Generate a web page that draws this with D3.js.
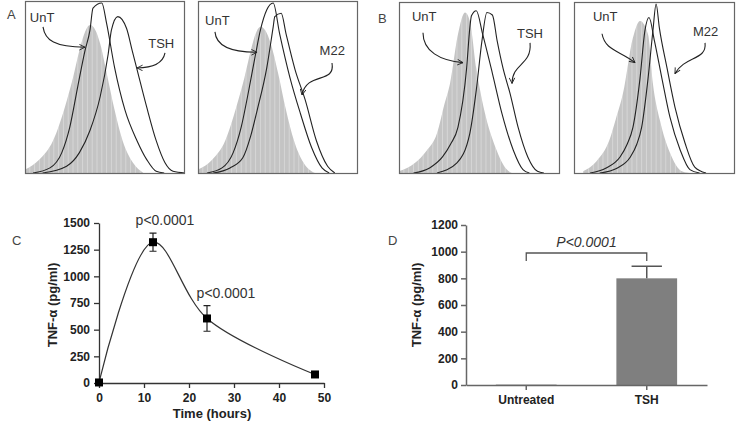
<!DOCTYPE html>
<html><head><meta charset="utf-8">
<script src="https://cdn.jsdelivr.net/npm/d3@7"></script>
<style>
body{margin:0;background:#fff}
svg{display:block;font-family:"Liberation Sans",Arial,sans-serif}
</style></head><body>
<svg id="chart" width="737" height="423"></svg>
<script>
// ---- Flow cytometry histograms: [channel (0-100), % of max count]
const grayA1 = [[0,2],[9,8],[17.5,19],[25,39],[30,56],[34,72],[37.5,83],[40.6,87],[44,84],[47,76],[51,59],[56,37],[61,19],[67.5,6],[74,0]];
const unTA1  = [[5,0],[15.6,3],[23,12],[28,27],[33,51],[37.5,72],[40.6,84],[42.5,97],[48,100],[51,88],[56,62],[62.5,37],[70,19],[76,8],[82,1],[87,0]];
const tshA1  = [[11,0],[26,4],[34,12],[40.6,25],[47,45],[52,70],[54,84],[58,92],[63.5,85],[67,72],[70,61],[76,39],[82,19],[87.5,6],[92.5,1],[100,0]];

const grayA2 = [[0,2],[9,8],[17,19],[24,39],[29,56],[33,72],[36.5,83],[39,86],[42,84],[45.5,76],[50,59],[55,37],[60,19],[66,6],[73,0]];
const unTA2  = [[5.6,0],[15,3],[22,12],[27,27],[32,50],[36,70],[39,84],[43,96],[47,100],[51,82],[57.5,56],[64,35],[71,15],[77.5,3],[82,0]];
const m22A2  = [[9.5,0],[20,3],[28,9],[33,22],[37,37],[43,62],[47,86],[48,92],[52,94],[55,82],[60.6,61],[67,43],[74,19],[81,4],[85.5,0]];

const grayB1 = [[0,1],[10,6],[17,13],[23.6,23.5],[28,40],[31.7,53],[36.6,82],[41,95],[44,90],[48,62],[53,37],[60,15],[67,2],[70,0]];
const unTB1  = [[9,0],[19,3],[27,9.5],[32,17],[36.6,27],[42,62],[44,86],[45,93],[48,96],[52,82],[58,59],[64,35],[71,13.5],[77,2],[81,0]];
const tshB1  = [[23.6,0],[36,6],[44,23.5],[48,49],[51.5,78],[54.6,95],[58,93.5],[61,78],[64.6,62],[69,47],[74,27],[80,9.5],[86,1],[90,0]];

const grayB2 = [[5.6,1],[14,7],[22,19.5],[26,32],[30.4,47],[36.6,80],[41,90],[46,82],[49,53],[53.4,31],[59.6,12],[67,1],[72,0]];
const unTB2  = [[10,0],[20,3],[28.6,9.5],[33,17],[36.6,27],[41,56],[44,84],[46.6,92],[50,78],[54.6,56],[59.6,33],[66,13.5],[72,2],[78,0]];
const m22B2  = [[16,0],[27,3],[35,9.5],[39,17],[42,27],[46,56],[49,84],[51,100],[53,86],[57.8,62],[62.7,39],[69,17.6],[75,3.5],[82,0]];

// ---- Panel C: time course
const timeHours  = [0, 12, 24, 48];
const tnfTime    = [5, 1320, 605, 80];
const tnfTimeErr = [0, 85, 120, 0];
const cYTicks = [0, 250, 500, 750, 1000, 1250, 1500];
const cXTicks = [0, 10, 20, 30, 40, 50];
const cPLabels = ["p<0.0001", "p<0.0001"];

// ---- Panel D: bar chart
const groups      = ["Untreated", "TSH"];
const tnfGroup    = [3, 800];
const tnfGroupErr = [0, 90];
const dYTicks = [0, 200, 400, 600, 800, 1000, 1200];
const dPLabel = "P<0.0001";

const svg = d3.select("#chart");
const defs = svg.append("defs");
defs.append("marker").attr("id","arr").attr("viewBox","0 0 10 10")
  .attr("refX",9).attr("refY",5).attr("markerWidth",7).attr("markerHeight",7)
  .attr("markerUnits","userSpaceOnUse").attr("orient","auto")
  .append("path").attr("d","M1,1 L9,5 L1,9").attr("fill","none")
  .attr("stroke","#222").attr("stroke-width",1.3);

const panels = [
  {id:"A1", x0:25, x1:185, y0:1, y1:174, gray:grayA1, a:unTA1, b:tshA1,
   labels:[{t:"UnT", tx:3, ty:89, path:[[11.25,86],[12.5,78],[18.75,74],[37.5,74]]},
           {t:"TSH", tx:77, ty:73.5, path:[[87.5,70.6],[86,63.5],[78,61.8],[70,61.8]]}]},
  {id:"A2", x0:198, x1:358, y0:1, y1:174, gray:grayA2, a:unTA2, b:m22A2,
   labels:[{t:"UnT", tx:4.4, ty:87, path:[[10.6,83],[11.25,75.3],[20,71],[36.9,71]]},
           {t:"M22", tx:76, ty:69.4, path:[[83.75,64.7],[86,52],[68,60],[65,45.9]]}]},
  {id:"B1", x0:399, x1:560, y0:2, y1:174, gray:grayB1, a:unTB1, b:tshB1,
   labels:[{t:"UnT", tx:8, ty:90, path:[[14.9,83],[14.9,72],[25.5,66.5],[39.75,65.3]]},
           {t:"TSH", tx:73.3, ty:80, path:[[81.4,77],[82.6,63.5],[70.2,65.3],[70.2,53]]}]},
  {id:"B2", x0:574, x1:735, y0:2, y1:174, gray:grayB2, a:unTB2, b:m22B2,
   labels:[{t:"UnT", tx:11.8, ty:90, path:[[17.4,82.4],[19.3,72.4],[28.6,72.4],[37.9,65.3]]},
           {t:"M22", tx:73.9, ty:81, path:[[81.4,77],[82.6,66.5],[68.9,69.4],[62.7,58.8]]}]}
];

panels.forEach(p => {
  const x = d3.scaleLinear().domain([0,100]).range([p.x0, p.x1]);
  const y = d3.scaleLinear().domain([0,100]).range([p.y1-1, p.y0+2]);
  const g = svg.append("g");
  const area = d3.area().x(d=>x(d[0])).y0(y(0)).y1(d=>y(d[1])).curve(d3.curveMonotoneX);
  const line = d3.line().x(d=>x(d[0])).y(d=>y(d[1])).curve(d3.curveMonotoneX);
  defs.append("clipPath").attr("id","clip"+p.id).append("path").attr("d", area(p.gray));
  g.append("path").attr("d", area(p.gray)).attr("fill","#c4c4c4");
  const stripes = d3.range(0, 100, 3);
  g.append("g").attr("clip-path","url(#clip"+p.id+")").selectAll("line").data(stripes).join("line")
    .attr("x1", d=>x(d)).attr("x2", d=>x(d)).attr("y1", p.y0).attr("y2", p.y1)
    .attr("stroke","#fff").attr("stroke-opacity",0.4).attr("stroke-width",0.8);
  [p.a, p.b].forEach(s => g.append("path").attr("d", line(s)).attr("fill","none")
    .attr("stroke","#222").attr("stroke-width",1.1).attr("stroke-linejoin","round"));
  g.append("rect").attr("x",p.x0+0.5).attr("y",p.y0+0.5).attr("width",p.x1-p.x0-1).attr("height",p.y1-p.y0-1)
    .attr("fill","none").attr("stroke","#666").attr("stroke-width",1.2);
  p.labels.forEach(l => {
    g.append("text").attr("x", x(l.tx)).attr("y", y(l.ty)).text(l.t)
      .attr("font-size",13).attr("fill","#333");
    const pt = l.path.map(d=>[x(d[0]), y(d[1])]);
    const dStr = `M${pt[0]}C${pt[1]} ${pt[2]} ${pt[3]}`;
    g.append("path").attr("d", dStr).attr("fill","none").attr("stroke","#222")
      .attr("stroke-width",1.1).attr("marker-end","url(#arr)");
  });
});

// panel letters
[["A",7,19],["B",378,23],["C",12,245],["D",388,245]].forEach(l =>
  svg.append("text").attr("x",l[1]).attr("y",l[2]).text(l[0]).attr("font-size",13).attr("fill","#444"));

const fmt = d3.format("d");

// ---- Panel C
{
  const x = d3.scaleLinear().domain([0,50]).range([99,324]);
  const y = d3.scaleLinear().domain([0,1500]).range([383,223]);
  const g = svg.append("g");
  const ya = g.append("g").attr("transform","translate(99,0)")
    .call(d3.axisLeft(y).tickValues(cYTicks).tickFormat(fmt).tickSize(5).tickSizeOuter(0).tickPadding(4));
  const xa = g.append("g").attr("transform","translate(0,383)")
    .call(d3.axisBottom(x).tickValues(cXTicks).tickFormat(fmt).tickSize(5).tickSizeOuter(0).tickPadding(5));
  [ya, xa].forEach(a => {
    a.select(".domain").attr("stroke","#333").attr("stroke-width",1.3);
    a.selectAll(".tick line").attr("stroke","#333").attr("stroke-width",1.3);
    a.selectAll("text").attr("font-size",12).attr("font-weight","bold").attr("fill","#222")
      .attr("font-family","Liberation Sans,Arial,sans-serif");
  });
  const pts = timeHours.map((t,i)=>({t, v:tnfTime[i], e:tnfTimeErr[i]}));
  g.append("path").attr("d", d3.line().x(d=>x(d.t)).y(d=>y(d.v)).curve(d3.curveCatmullRom.alpha(0.5))(pts))
    .attr("fill","none").attr("stroke","#333").attr("stroke-width",1.2);
  pts.filter(d=>d.e>0).forEach(d => {
    const cx = x(d.t);
    g.append("path").attr("d",`M${cx},${y(d.v-d.e)}V${y(d.v+d.e)}M${cx-3.5},${y(d.v-d.e)}H${cx+3.5}M${cx-3.5},${y(d.v+d.e)}H${cx+3.5}`)
      .attr("stroke","#222").attr("stroke-width",1.2).attr("fill","none");
  });
  g.selectAll("rect.pt").data(pts).join("rect").attr("class","pt")
    .attr("x", d=>x(d.t)-4).attr("y", d=>y(d.v)-4).attr("width",8).attr("height",8).attr("fill","#000");
  [1,2].forEach((idx,k) => {
    const d = pts[idx];
    g.append("text").attr("x", x(d.t) + (k===0 ? 12 : 19)).attr("y", y(d.v+d.e) - 8)
      .attr("text-anchor","middle").attr("font-size",14).attr("fill","#333").text(cPLabels[k]);
  });
  g.append("text").attr("transform","translate(57,305) rotate(-90)").attr("text-anchor","middle")
    .attr("font-size",13).attr("font-weight","bold").attr("fill","#222").text("TNF-α (pg/ml)");
  g.append("text").attr("x",212).attr("y",418).attr("text-anchor","middle")
    .attr("font-size",13).attr("font-weight","bold").attr("fill","#222").text("Time (hours)");
}

// ---- Panel D
{
  const x = d3.scaleBand().domain(groups).range([466,707]).paddingInner(0.496).paddingOuter(0.248);
  const y = d3.scaleLinear().domain([0,1200]).range([385,225]);
  const g = svg.append("g");
  const bars = groups.map((c,i)=>({c, v:tnfGroup[i], e:tnfGroupErr[i]}));
  g.selectAll("rect.bar").data(bars).join("rect").attr("class","bar")
    .attr("x", d=>x(d.c)).attr("width", x.bandwidth())
    .attr("y", d=>y(d.v)).attr("height", d=>Math.max(1, y(0)-y(d.v)))
    .attr("fill","#7f7f7f");
  bars.filter(d=>d.e>0).forEach(d => {
    const cx = x(d.c) + x.bandwidth()/2;
    const hw = x.bandwidth()/4;
    g.append("path").attr("d",`M${cx},${y(d.v)}V${y(d.v+d.e)}M${cx-hw},${y(d.v+d.e)}H${cx+hw}`)
      .attr("stroke","#555").attr("stroke-width",1.5).attr("fill","none");
  });
  const ya = g.append("g").attr("transform","translate(466,0)")
    .call(d3.axisLeft(y).tickValues(dYTicks).tickFormat(fmt).tickSize(5).tickSizeOuter(0).tickPadding(3));
  const xa = g.append("g").attr("transform","translate(0,385)")
    .call(d3.axisBottom(x).tickSize(5).tickSizeOuter(0).tickPadding(5));
  [ya, xa].forEach(a => {
    a.select(".domain").attr("stroke","#666").attr("stroke-width",1.5);
    a.selectAll(".tick line").attr("stroke","#666").attr("stroke-width",1.5);
    a.selectAll("text").attr("font-size",12).attr("font-weight","bold").attr("fill","#222")
      .attr("font-family","Liberation Sans,Arial,sans-serif");
  });
  const xl = x(groups[0]) + x.bandwidth()/2, xr = x(groups[1]) + x.bandwidth()/2;
  const yb = y(990), yt = y(930);
  g.append("path").attr("d",`M${xl},${yt}V${yb}H${xr}V${yt}`).attr("fill","none")
    .attr("stroke","#555").attr("stroke-width",1.3);
  g.append("text").attr("x",(xl+xr)/2).attr("y",yb-6).attr("text-anchor","middle")
    .attr("font-size",14).attr("font-style","italic").attr("fill","#333").text(dPLabel);
  g.append("text").attr("transform","translate(421,305) rotate(-90)").attr("text-anchor","middle")
    .attr("font-size",13).attr("font-weight","bold").attr("fill","#222").text("TNF-α (pg/ml)");
}
</script>
</body></html>
